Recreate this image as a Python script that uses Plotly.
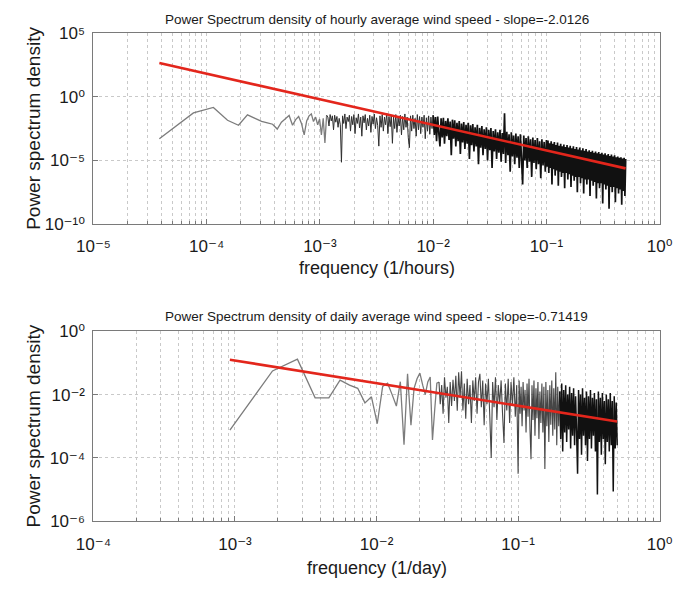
import plotly.graph_objects as go

# ---------------- data (log10 values) ----------------
# Hourly spectrum: lowest bins, read one by one
hourly_low_log10f = [-4.418, -4.117, -3.941, -3.816, -3.719, -3.640, -3.573, -3.515, -3.464, -3.418,
                     -3.377, -3.340, -3.305, -3.272, -3.242, -3.214, -3.188, -3.163, -3.139, -3.117,
                     -3.096, -3.076, -3.057, -3.038, -3.020, -3.003, -2.987, -2.971, -2.956, -2.941]
hourly_low_log10psd = [-3.30, -1.27, -0.84, -1.85, -2.24, -1.42, -1.70, -1.93, -2.05, -2.16,
                       -2.54, -2.00, -1.73, -1.47, -2.24, -1.80, -1.55, -2.10, -3.00, -1.90,
                       -1.50, -1.35, -1.95, -1.60, -2.20, -1.75, -3.00, -1.70, -3.63, -1.45]

hourly_mid_log10f = [-2.93, -2.92, -2.91, -2.90, -2.89, -2.88, -2.87, -2.86, -2.85, -2.84,
                     -2.83, -2.82, -2.81, -2.80, -2.79, -2.78, -2.77, -2.76, -2.75, -2.74,
                     -2.73, -2.72, -2.71, -2.70, -2.69, -2.68, -2.67, -2.66, -2.65, -2.64,
                     -2.63, -2.62, -2.61, -2.60, -2.59, -2.58, -2.57, -2.56, -2.55, -2.54,
                     -2.53, -2.52, -2.51, -2.50, -2.49, -2.48, -2.47, -2.46, -2.45, -2.44,
                     -2.43, -2.42, -2.41, -2.40, -2.39, -2.38, -2.37, -2.36, -2.35, -2.34,
                     -2.33, -2.32, -2.31, -2.30, -2.29, -2.28, -2.27, -2.26, -2.25, -2.24,
                     -2.23, -2.22, -2.21, -2.20, -2.19, -2.18, -2.17, -2.16, -2.15, -2.14,
                     -2.13, -2.12, -2.11, -2.10, -2.09, -2.08, -2.07, -2.06, -2.05, -2.04,
                     -2.03, -2.02, -2.01, -2.00, -1.99, -1.98, -1.97, -1.96, -1.95, -1.94,
                     -1.93, -1.92, -1.91, -1.90, -1.89, -1.88, -1.87, -1.86, -1.85, -1.84,
                     -1.83, -1.82, -1.81, -1.80, -1.79, -1.78, -1.77, -1.76, -1.75, -1.74,
                     -1.73, -1.72, -1.71, -1.70, -1.69, -1.68, -1.67, -1.66, -1.65, -1.64,
                     -1.63, -1.62, -1.61, -1.60, -1.59, -1.58, -1.57, -1.56, -1.55, -1.54,
                     -1.53, -1.52, -1.51, -1.50, -1.49, -1.48, -1.47, -1.46, -1.45, -1.44,
                     -1.43, -1.42, -1.41, -1.40, -1.39, -1.38, -1.37, -1.36, -1.35, -1.34,
                     -1.33, -1.32, -1.31, -1.30, -1.29, -1.28, -1.27, -1.26, -1.25, -1.24,
                     -1.23, -1.22, -1.21, -1.20, -1.19, -1.18, -1.17, -1.16, -1.15, -1.14,
                     -1.13, -1.12, -1.11, -1.10, -1.09, -1.08, -1.07, -1.06, -1.05, -1.04,
                     -1.03, -1.02, -1.01, -1.00]
hourly_mid_log10psd = [-1.60, -2.30, -1.40, -1.90, -1.50, -2.60, -1.45, -2.00, -1.55, -2.40,
                       -1.70, -2.20, -5.15, -1.50, -2.10, -1.35, -2.50, -1.60, -1.95, -1.45,
                       -2.70, -1.55, -2.20, -1.40, -2.90, -1.65, -2.10, -1.35, -2.45, -1.60,
                       -3.10, -1.50, -2.05, -1.40, -2.60, -1.70, -2.30, -1.45, -2.80, -1.55,
                       -2.15, -1.35, -2.50, -1.65, -2.25, -3.88, -1.50, -2.40, -1.40, -2.70,
                       -1.60, -2.20, -1.30, -2.90, -1.55, -2.35, -1.45, -3.66, -1.60, -2.50,
                       -1.40, -2.80, -1.65, -2.30, -1.45, -3.00, -1.55, -2.60, -1.35, -2.40,
                       -1.60, -3.20, -4.00, -1.50, -2.70, -1.45, -2.50, -1.70, -3.10, -1.40,
                       -2.60, -1.55, -2.90, -1.60, -2.40, -1.45, -3.30, -1.65, -2.70, -1.50,
                       -2.95, -1.60, -2.50,
                       -1.45, -3.00, -1.60, -3.50, -1.55, -2.90, -3.90, -1.70, -3.20, -1.65,
                       -3.70, -1.90, -3.10, -1.70, -3.40, -1.95, -4.60, -1.80, -3.30, -1.85,
                       -3.90, -2.05, -3.50, -1.90, -4.50, -2.10, -3.60, -1.98, -4.10, -2.20,
                       -3.70, -2.05, -4.90, -2.25, -3.80, -2.15, -4.30, -2.40, -3.90, -2.20,
                       -5.30, -2.45, -4.00, -2.30, -4.60, -2.55, -4.10, -2.40, -5.00, -2.60,
                       -4.20, -2.45, -5.60, -2.70, -4.30, -2.55, -4.90, -2.80, -4.40, -2.60,
                       -5.10, -2.85, -4.50, -1.30, -5.20, -2.75, -4.60, -2.95, -5.90, -2.80,
                       -4.70, -3.05, -5.30, -2.90, -4.80, -3.10, -5.60, -2.95, -4.90, -6.90,
                       -3.05, -5.00, -3.25, -5.60, -3.10, -5.10, -3.35, -6.30, -3.20, -5.20,
                       -3.40, -5.70, -3.25, -5.30, -3.50, -6.40, -3.35, -5.40, -3.55, -5.90,
                       -3.40]

# high-frequency bins (shared log10 frequency positions, both panels)
fine_log10f = [-0.993, -0.986, -0.979, -0.972, -0.965, -0.958, -0.951, -0.944, -0.937, -0.930,
               -0.923, -0.916, -0.909, -0.902, -0.895, -0.888, -0.881, -0.874, -0.867, -0.860,
               -0.853, -0.846, -0.839, -0.832, -0.825, -0.818, -0.811, -0.804, -0.797, -0.790,
               -0.783, -0.776, -0.769, -0.762, -0.755, -0.748, -0.741, -0.734, -0.727, -0.720,
               -0.713, -0.706, -0.699, -0.692, -0.685, -0.678, -0.671, -0.664, -0.657, -0.650,
               -0.643, -0.636, -0.629, -0.622, -0.615, -0.608, -0.601, -0.594, -0.587, -0.580,
               -0.573, -0.566, -0.559, -0.552, -0.545, -0.538, -0.531, -0.524, -0.517, -0.510,
               -0.503, -0.496, -0.489, -0.482, -0.475, -0.468, -0.461, -0.454, -0.447, -0.440,
               -0.433, -0.426, -0.419, -0.412, -0.405, -0.398, -0.391, -0.384, -0.377, -0.370,
               -0.363, -0.356, -0.349, -0.342, -0.335, -0.328, -0.321, -0.314, -0.307, -0.300]
hourly_fine_log10psd = [-5.5, -3.45, -6.0, -3.65, -5.6, -3.50, -6.9, -3.70, -5.7, -3.55,
                        -6.2, -3.80, -5.8, -3.60, -7.0, -3.85, -5.9, -3.70, -6.3, -3.90,
                        -6.0, -3.75, -7.2, -3.95, -6.0, -3.80, -6.5, -4.00, -6.1, -3.85,
                        -7.1, -4.05, -6.2, -3.90, -6.6, -4.10, -6.3, -3.95, -7.5, -4.15,
                        -6.3, -4.00, -6.8, -4.20, -6.4, -4.05, -7.6, -4.25, -6.5, -4.10,
                        -6.9, -4.30, -6.5, -4.20, -7.8, -4.35, -6.6, -4.25, -7.0, -4.40,
                        -6.7, -4.30, -8.0, -4.45, -6.8, -4.35, -7.2, -4.50, -6.8, -4.40,
                        -8.4, -4.55, -6.9, -4.45, -7.3, -4.60, -7.0, -4.50, -8.8, -4.65,
                        -7.1, -4.55, -7.5, -4.70, -7.1, -4.60, -8.3, -4.75, -7.2, -4.70,
                        -7.6, -4.80, -7.3, -4.75, -8.5, -4.85, -7.4, -4.80, -7.8, -4.90]

# Daily spectrum
daily_low_log10f = [-3.036, -2.735, -2.559, -2.434, -2.337, -2.258, -2.191, -2.133, -2.082, -2.036,
                    -1.995, -1.957, -1.922, -1.890, -1.860, -1.832, -1.806, -1.781, -1.757, -1.735,
                    -1.714, -1.694, -1.674, -1.656, -1.638, -1.621, -1.605, -1.589, -1.574, -1.559]
daily_low_log10psd = [-3.12, -1.25, -0.88, -2.10, -2.10, -1.54, -1.70, -1.80, -2.26, -2.07,
                      -2.92, -1.74, -1.64, -2.00, -2.36, -1.59, -3.58, -1.34, -2.97, -1.80,
                      -1.50, -1.32, -1.70, -2.00, -1.60, -1.44, -3.43, -2.46, -1.64, -1.60]
daily_mid_log10f = [-1.55, -1.54, -1.53, -1.52, -1.51, -1.50, -1.49, -1.48, -1.47, -1.46,
                    -1.45, -1.44, -1.43, -1.42, -1.41, -1.40, -1.39, -1.38, -1.37, -1.36,
                    -1.35, -1.34, -1.33, -1.32, -1.31, -1.30, -1.29, -1.28, -1.27, -1.26,
                    -1.25, -1.24, -1.23, -1.22, -1.21, -1.20, -1.19, -1.18, -1.17, -1.16,
                    -1.15, -1.14, -1.13, -1.12, -1.11, -1.10, -1.09, -1.08, -1.07, -1.06,
                    -1.05, -1.04, -1.03, -1.02, -1.01, -1.00]
daily_mid_log10psd = [-2.30, -1.70, -2.60, -1.45, -2.10, -1.75, -2.90, -1.60, -2.36, -1.53,
                      -2.20, -1.40, -2.51, -1.29, -2.10, -1.26, -2.50, -1.65, -2.76, -1.50,
                      -2.30, -1.70, -2.90, -1.55, -2.20, -1.45, -2.60, -1.60, -1.34, -2.40,
                      -1.55, -2.97, -1.65, -2.30, -1.50, -2.70, -4.00, -1.60, -2.40, -1.45,
                      -2.80, -1.70, -2.30, -1.55, -2.60, -3.53, -1.65, -2.50, -1.50, -2.90,
                      -1.60, -2.35, -1.45, -2.70, -1.70, -4.50]
daily_fine_log10psd = [-1.55, -2.60, -1.75, -3.00, -1.60, -2.50, -1.85, -3.20, -1.65, -2.70,
                       -1.50, -3.10, -4.04, -1.70, -2.80, -1.55, -3.30, -1.80, -2.75, -1.60,
                       -3.40, -1.90, -2.90, -1.65, -3.20, -1.75, -4.35, -1.60, -3.00, -1.85,
                       -3.50, -1.70, -2.95, -1.55, -3.30, -1.80, -3.10, -1.29, -3.60, -1.75,
                       -3.00, -1.90, -3.40, -1.65, -3.80, -1.85, -3.20, -1.70, -3.50, -2.00,
                       -3.10, -1.75, -3.70, -1.95, -3.30, -1.80, -3.60, -2.05, -3.20, -4.50,
                       -1.85, -3.40, -2.00, -3.90, -1.80, -3.30, -2.10, -3.60, -1.90, -4.10,
                       -2.05, -3.40, -1.85, -3.70, -2.10, -3.30, -1.95, -3.80, -2.15, -5.16,
                       -1.90, -3.50, -2.10, -3.90, -1.95, -3.40, -2.20, -4.20, -2.00, -3.50,
                       -2.15, -3.80, -1.95, -3.60, -2.20, -5.06, -2.05, -3.70, -2.25, -3.60]

# fitted power-law lines (end points)
hourly_fit_f = [3.82e-5, 0.5]
hourly_fit_psd = [457.0, 2.34e-6]
daily_fit_f = [9.2e-4, 0.5]
daily_fit_psd = [0.127, 1.41e-3]

# tick labels
hourly_x_tickvals = [1e-5, 1e-4, 1e-3, 1e-2, 1e-1, 1e0]
hourly_x_ticktext = ['10⁻⁵', '10⁻⁴', '10⁻³', '10⁻²', '10⁻¹', '10⁰']
hourly_y_tickvals = [1e-10, 1e-5, 1e0, 1e5]
hourly_y_ticktext = ['10⁻¹⁰', '10⁻⁵', '10⁰', '10⁵']
daily_x_tickvals = [1e-4, 1e-3, 1e-2, 1e-1, 1e0]
daily_x_ticktext = ['10⁻⁴', '10⁻³', '10⁻²', '10⁻¹', '10⁰']
daily_y_tickvals = [1e-6, 1e-4, 1e-2, 1e0]
daily_y_ticktext = ['10⁻⁶', '10⁻⁴', '10⁻²', '10⁰']

title_hourly = 'Power Spectrum density of hourly average wind speed - slope=-2.0126'
title_daily = 'Power Spectrum density of daily average wind speed - slope=-0.71419'
xlabel_hourly = 'frequency (1/hours)'
xlabel_daily = 'frequency (1/day)'
ylabel = 'Power spectrum density'

# ---------------- build ----------------
assert len(hourly_mid_log10f) == len(hourly_mid_log10psd)
assert len(daily_mid_log10f) == len(daily_mid_log10psd)
assert len(fine_log10f) == len(hourly_fine_log10psd) == len(daily_fine_log10psd)
assert len(hourly_low_log10f) == len(hourly_low_log10psd)
assert len(daily_low_log10f) == len(daily_low_log10psd)


def lin(v):
    return [10.0 ** a for a in v]


def split(fs, ps, cut):
    """split one series at log10 frequency `cut`, sharing the boundary point"""
    a = [(f, p) for f, p in zip(fs, ps) if f <= cut]
    b = [(f, p) for f, p in zip(fs, ps) if f >= cut]
    return ([f for f, _ in a], [p for _, p in a]), ([f for f, _ in b], [p for _, p in b])


h_all_f = hourly_low_log10f + hourly_mid_log10f + fine_log10f
h_all_p = hourly_low_log10psd + hourly_mid_log10psd + hourly_fine_log10psd
d_all_f = daily_low_log10f + daily_mid_log10f + fine_log10f
d_all_p = daily_low_log10psd + daily_mid_log10psd + daily_fine_log10psd

h_sparse, h_rest = split(h_all_f, h_all_p, -2.941)
h_mid, h_dense = split(h_rest[0], h_rest[1], -2.00)
d_sparse, d_rest = split(d_all_f, d_all_p, -1.559)
d_mid, d_dense = split(d_rest[0], d_rest[1], -0.706)

W, H = 687, 596
FONT = 'Liberation Sans, Arial, DejaVu Sans, sans-serif'
RED = '#e3261c'

fig = go.Figure()
for seg, xa, ya, col, wd in [
    (h_sparse, 'x', 'y', '#7c7c7c', 1.3),
    (h_mid, 'x', 'y', '#2e2e2e', 1.0),
    (h_dense, 'x', 'y', '#111111', 1.7),
    (d_sparse, 'x2', 'y2', '#7c7c7c', 1.3),
    (d_mid, 'x2', 'y2', '#464646', 1.1),
    (d_dense, 'x2', 'y2', '#111111', 1.5),
]:
    fig.add_trace(go.Scatter(x=lin(seg[0]), y=lin(seg[1]), mode='lines',
                             line=dict(color=col, width=wd, simplify=False),
                             xaxis=xa, yaxis=ya, showlegend=False, hoverinfo='skip'))
fig.add_trace(go.Scatter(x=hourly_fit_f, y=hourly_fit_psd, mode='lines',
                         line=dict(color=RED, width=2.6), xaxis='x', yaxis='y', showlegend=False))
fig.add_trace(go.Scatter(x=daily_fit_f, y=daily_fit_psd, mode='lines',
                         line=dict(color=RED, width=2.6), xaxis='x2', yaxis='y2', showlegend=False))

px_left, px_right = 79, 672
xdom = [px_left / W, px_right / W]
top_dom = [1 - 222 / H, 1 - 25 / H]
bot_dom = [1 - 529 / H, 1 - 333 / H]

GRID = '#c9c9c9'
AXC = '#7a7a7a'
tickfont = dict(family=FONT, size=17, color='#1a1a1a')


def minor_vals(e0, e1):
    return [m * 10.0 ** e for e in range(e0, e1) for m in range(2, 10)]


def xaxis_cfg(rng, tv, tt, anchor):
    return dict(type='log', range=rng, domain=xdom, anchor=anchor,
                tickmode='array', tickvals=tv, ticktext=tt, tickfont=tickfont,
                ticklabelstandoff=7,
                showline=True, mirror=True, linecolor=AXC, linewidth=1,
                ticks='inside', ticklen=5, tickcolor=AXC,
                showgrid=True, gridcolor=GRID, griddash='dot', gridwidth=1,
                minor=dict(tickmode='array', tickvals=minor_vals(int(rng[0]), int(rng[1])),
                           showgrid=True, gridcolor=GRID, griddash='dot', gridwidth=1,
                           ticks='inside', ticklen=3, tickcolor=AXC),
                zeroline=False, fixedrange=True)


def yaxis_cfg(rng, dom, tv, tt, anchor):
    return dict(type='log', range=rng, domain=dom, anchor=anchor,
                tickmode='array', tickvals=tv, ticktext=tt, tickfont=tickfont,
                ticklabelstandoff=4,
                showline=True, mirror=True, linecolor=AXC, linewidth=1,
                ticks='inside', ticklen=5, tickcolor=AXC,
                showgrid=True, gridcolor=GRID, griddash='dot', gridwidth=1,
                zeroline=False, fixedrange=True)


fig.update_layout(
    width=W, height=H, margin=dict(l=0, r=0, t=0, b=0),
    paper_bgcolor='white', plot_bgcolor='white',
    font=dict(family=FONT, color='#1a1a1a'),
    xaxis=xaxis_cfg([-5, 0], hourly_x_tickvals, hourly_x_ticktext, 'y'),
    yaxis=yaxis_cfg([-10, 5], top_dom, hourly_y_tickvals, hourly_y_ticktext, 'x'),
    xaxis2=xaxis_cfg([-4, 0], daily_x_tickvals, daily_x_ticktext, 'y2'),
    yaxis2=yaxis_cfg([-6, 0], bot_dom, daily_y_tickvals, daily_y_ticktext, 'x2'),
)

cx = (px_left + px_right) / 2 / W
ann = [
    dict(text=title_hourly, x=cx, y=1 - 11 / H, font=dict(size=13.5)),
    dict(text=title_daily, x=cx, y=1 - 318 / H, font=dict(size=13.5)),
    dict(text=xlabel_hourly, x=cx, y=1 - 268 / H, font=dict(size=18)),
    dict(text=xlabel_daily, x=cx, y=1 - 577 / H, font=dict(size=18)),
    dict(text=ylabel, x=16 / W, y=1 - 123.5 / H, font=dict(size=19), textangle=-90),
    dict(text=ylabel, x=16 / W, y=1 - 431 / H, font=dict(size=19), textangle=-90),
]
for a in ann:
    a.update(xref='paper', yref='paper', xanchor='center', yanchor='middle', showarrow=False)
    a['font'].update(family=FONT, color='#1a1a1a')
fig.update_layout(annotations=ann)

fig.write_html('out.html')
